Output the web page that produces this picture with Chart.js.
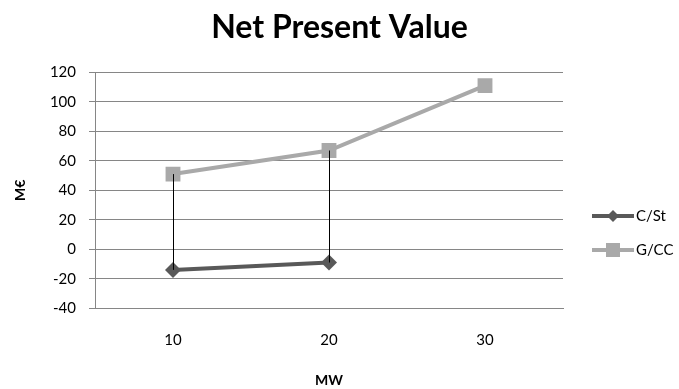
<!DOCTYPE html>
<html>
<head>
<meta charset="utf-8">
<script src="https://cdn.jsdelivr.net/npm/chart.js@4.4.1/dist/chart.umd.min.js"></script>
<style>
  html, body { margin: 0; padding: 0; background: #fff; }
  #wrap { width: 679px; height: 389px; }
</style>
</head>
<body>
<div id="wrap"><canvas id="npv"></canvas></div>
<script>
const categories = ['10', '20', '30'];
const cstValues = [-14, -9, null];
const gccValues = [51, 67, 111];
const yTicks = [-40, -20, 0, 20, 40, 60, 80, 100, 120];

const FONT = 'Lato, "Open Sans", sans-serif';

// vertical lines joining the two series at each category
const highLow = {
  id: 'highLow',
  afterDatasetsDraw(chart) {
    const ctx = chart.ctx;
    const x = chart.scales.x, y = chart.scales.y;
    ctx.save();
    ctx.strokeStyle = '#000';
    ctx.lineWidth = 1;
    categories.forEach((c, i) => {
      if (cstValues[i] == null || gccValues[i] == null) return;
      const px = Math.round(x.getPixelForValue(i)) + 0.5;
      ctx.beginPath();
      ctx.moveTo(px, y.getPixelForValue(gccValues[i]));
      ctx.lineTo(px, y.getPixelForValue(cstValues[i]));
      ctx.stroke();
    });
    ctx.restore();
  }
};

// excel-like legend: line + marker + label
const sideLegend = {
  id: 'sideLegend',
  afterDraw(chart) {
    const ctx = chart.ctx;
    const area = chart.chartArea;
    const x0 = area.right + 29;
    let yy = 216;
    chart.data.datasets.forEach(ds => {
      ctx.save();
      ctx.strokeStyle = ds.borderColor;
      ctx.lineWidth = 4;
      ctx.beginPath();
      ctx.moveTo(x0, yy);
      ctx.lineTo(x0 + 42, yy);
      ctx.stroke();
      ctx.fillStyle = ds.backgroundColor;
      ctx.beginPath();
      if (ds.pointStyle === 'rect') {
        ctx.rect(x0 + 14, yy - 7, 14, 14);
      } else {
        ctx.moveTo(x0 + 21, yy - 6);
        ctx.lineTo(x0 + 27, yy);
        ctx.lineTo(x0 + 21, yy + 6);
        ctx.lineTo(x0 + 15, yy);
        ctx.closePath();
      }
      ctx.fill();
      ctx.fillStyle = '#000';
      ctx.font = '15px ' + FONT;
      ctx.textBaseline = 'middle';
      ctx.fillText(ds.label, x0 + 44, yy);
      ctx.restore();
      yy += 34;
    });
  }
};

new Chart(document.getElementById('npv'), {
  type: 'line',
  data: {
    labels: categories,
    datasets: [{
      label: 'C/St',
      data: cstValues,
      borderColor: '#595959',
      backgroundColor: '#595959',
      borderWidth: 4,
      pointStyle: 'rectRot',
      pointRadius: 8,
      pointBorderWidth: 0,
      tension: 0
    }, {
      label: 'G/CC',
      data: gccValues,
      borderColor: '#a9a9a9',
      backgroundColor: '#a9a9a9',
      borderWidth: 4,
      pointStyle: 'rect',
      pointRadius: 10.5,
      pointBorderWidth: 0,
      tension: 0
    }]
  },
  options: {
    responsive: true,
    maintainAspectRatio: false,
    animation: false,
    layout: {
      padding: { left: 0, right: 0, top: 0, bottom: 0 }
    },
    plugins: {
      legend: { display: false },
      tooltip: { enabled: false },
      title: {
        display: true,
        text: 'Net Present Value',
        color: '#000',
        font: { family: FONT, size: 32, weight: 'bold' },
        padding: { top: 8, bottom: 26 }
      }
    },
    scales: {
      x: {
        offset: true,
        grid: { display: false, drawTicks: false },
        border: { display: true, color: '#868686', width: 1 },
        ticks: { color: '#000', font: { family: FONT, size: 15 }, padding: 23 },
        title: {
          display: true,
          text: 'MW',
          color: '#000',
          font: { family: FONT, size: 14, weight: 'bold' },
          padding: { top: 0, bottom: 0 }
        }
      },
      y: {
        min: -40,
        max: 120,
        afterBuildTicks: axis => { axis.ticks = yTicks.map(v => ({ value: v })); },
        afterFit: axis => { axis.width = 95; },
        grid: { color: '#868686', lineWidth: 1, tickLength: 6, drawTicks: true },
        border: { display: true, color: '#868686', width: 1 },
        ticks: { color: '#000', font: { family: FONT, size: 15 }, padding: 13 },
        title: {
          display: true,
          text: 'M€',
          color: '#000',
          font: { family: FONT, size: 14, weight: 'bold' },
          padding: { top: 12, bottom: 0 }
        }
      },
      // empty box on the right that leaves room for the legend
      side: {
        type: 'linear',
        position: 'right',
        display: true,
        grid: { display: false, drawTicks: false },
        border: { display: false },
        ticks: { display: false },
        afterFit: axis => { axis.width = 116; }
      }
    }
  },
  plugins: [highLow, sideLegend]
});
</script>
</body>
</html>
